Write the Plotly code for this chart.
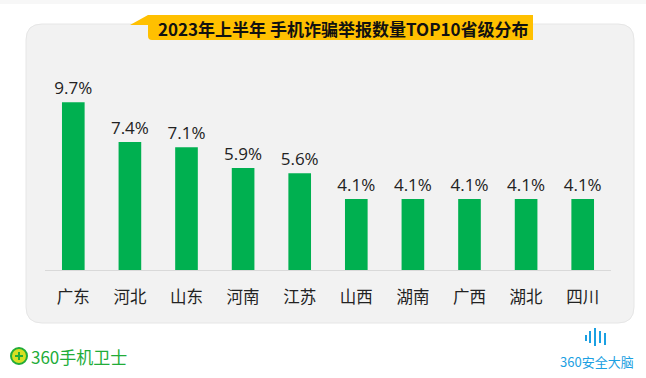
import plotly.graph_objects as go

provinces = ["广东", "河北", "山东", "河南", "江苏", "山西", "湖南", "广西", "湖北", "四川"]
shares = [9.7, 7.4, 7.1, 5.9, 5.6, 4.1, 4.1, 4.1, 4.1, 4.1]
value_labels = ["9.7%", "7.4%", "7.1%", "5.9%", "5.6%", "4.1%", "4.1%", "4.1%", "4.1%", "4.1%"]
title_text = "2023年上半年 手机诈骗举报数量TOP10省级分布"

W, H = 646, 378
L, R, T, B = 45, 611, 60, 270

def px(x):
    return (x - L) / (R - L)

def py(y):
    return (B - y) / (B - T)

CJK = "Noto Sans CJK SC"

fig = go.Figure(go.Bar(
    x=provinces, y=shares, text=value_labels, textposition="outside", constraintext="none",
    textfont=dict(size=17, color="#222222", family="Open Sans, Noto Sans CJK SC"),
    marker=dict(color="#00B050", line=dict(width=0)),
    cliponaxis=False, width=0.4,
))

shapes = []
shapes.append(dict(type="rect", xref="paper", yref="paper", x0=px(0), x1=px(W), y0=py(0), y1=py(4),
                   fillcolor="#F7F7F7", line=dict(width=0), layer="below"))
x0, y0, x1, y1, r = 26, 24, 634, 323, 16
path = (f"M {px(x0+r)},{py(y0)} L {px(x1-r)},{py(y0)} Q {px(x1)},{py(y0)} {px(x1)},{py(y0+r)} "
        f"L {px(x1)},{py(y1-r)} Q {px(x1)},{py(y1)} {px(x1-r)},{py(y1)} L {px(x0+r)},{py(y1)} "
        f"Q {px(x0)},{py(y1)} {px(x0)},{py(y1-r)} L {px(x0)},{py(y0+r)} Q {px(x0)},{py(y0)} {px(x0+r)},{py(y0)} Z")
shapes.append(dict(type="path", xref="paper", yref="paper", path=path,
                   fillcolor="#F2F2F2", line=dict(color="#E6E6E6", width=1), layer="below"))
bpath = (f"M {px(130)},{py(25)} L {px(148)},{py(15)} L {px(533)},{py(15)} L {px(533)},{py(40)} "
         f"L {px(152)},{py(40)} Q {px(148)},{py(40)} {px(148)},{py(36)} L {px(148)},{py(25)} Z")
shapes.append(dict(type="path", xref="paper", yref="paper", path=bpath,
                   fillcolor="#FFC000", line=dict(width=0), layer="below"))
shapes.append(dict(type="circle", xref="paper", yref="paper",
                   x0=px(11), x1=px(27), y0=py(364), y1=py(348),
                   fillcolor="#D7DF23", line=dict(color="#22AC38", width=2)))
shapes.append(dict(type="line", xref="paper", yref="paper", x0=px(15), x1=px(23), y0=py(356), y1=py(356),
                   line=dict(color="#22AC38", width=2)))
shapes.append(dict(type="line", xref="paper", yref="paper", x0=px(19), x1=px(19), y0=py(352), y1=py(360),
                   line=dict(color="#22AC38", width=2)))
for xx, ya, yb in [(586, 335, 341), (590, 331, 343), (595, 328, 346), (600, 331, 343), (605, 333, 345)]:
    shapes.append(dict(type="line", xref="paper", yref="paper", x0=px(xx), x1=px(xx), y0=py(ya), y1=py(yb),
                       line=dict(color="#1BA0E2", width=2)))

annotations = [
    dict(text=f"<b>{title_text}</b>", xref="paper", yref="paper", x=px(343), y=py(28),
         showarrow=False, font=dict(size=17, color="#111111", family=CJK), xanchor="center", yanchor="middle"),
    dict(text="360手机卫士", xref="paper", yref="paper", x=px(29), y=py(356), showarrow=False,
         font=dict(size=17, color="#22AC38", family=CJK), xanchor="left", yanchor="middle"),
    dict(text="360安全大脑", xref="paper", yref="paper", x=px(597), y=py(361), showarrow=False,
         font=dict(size=13, color="#1BA0E2", family=CJK), xanchor="center", yanchor="middle"),
]

fig.update_layout(
    width=W, height=H, margin=dict(l=L, r=W - R, t=T, b=H - B),
    paper_bgcolor="white", plot_bgcolor="rgba(0,0,0,0)",
    showlegend=False, shapes=shapes, annotations=annotations,
    xaxis=dict(showline=True, linecolor="#D9D9D9", linewidth=1, ticks="outside", ticklen=12,
               tickcolor="rgba(0,0,0,0)", tickfont=dict(size=16.5, color="#222222", family=CJK),
               showgrid=False, fixedrange=True),
    yaxis=dict(range=[0, 12.14], visible=False, showgrid=False, zeroline=False, fixedrange=True),
)

fig.write_html("out.html", config={"displayModeBar": False},
               post_script="document.body.style.margin='0';")
